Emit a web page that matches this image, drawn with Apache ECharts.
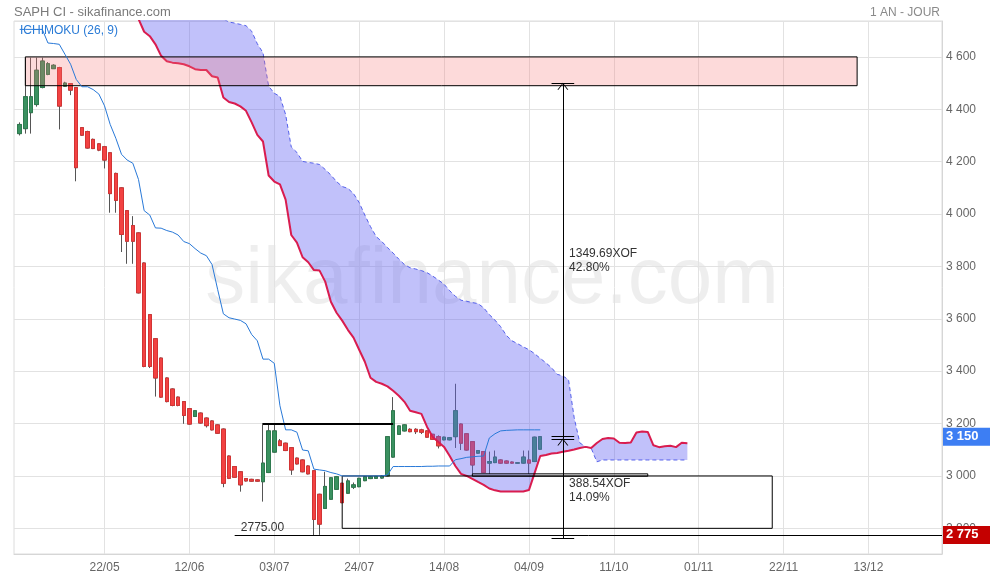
<!DOCTYPE html>
<html>
<head>
<meta charset="utf-8">
<script src="https://cdn.jsdelivr.net/npm/echarts@6/dist/echarts.min.js"></script>
<style>
html,body{margin:0;padding:0;background:#fff;}
#c{width:990px;height:580px;}
</style>
</head>
<body>
<div id="c"></div>
<script>
// ---------- DATA ----------
const tickLabels = ['22/05','12/06','03/07','24/07','14/08','04/09','11/10','01/11','22/11','13/12'];
const firstTick = 16, tickStep = 15, nCats = 165;

// daily candles [open, close, low, high], starting at category index candleStart
const candleStart = 1;
const candles = [
  [4307,4342,4300,4350],[4326,4448,4307,4597],[4387,4448,4307,4597],[4418,4549,4410,4597],[4483,4584,4480,4597],
  [4533,4574,4530,4580],[4555,4568,4555,4572],[4559,4412,4323,4562],[4488,4500,4486,4505],[4498,4473,4454,4500],
  [4483,4177,4125,4485],[4330,4301,4298,4332],[4315,4252,4250,4318],[4285,4250,4248,4288],[4268,4244,4240,4270],
  [4257,4206,4174,4260],[4234,4078,4005,4236],[4155,4052,4005,4158],[4100,3922,3855,4102],[4013,3896,3810,4015],
  [3956,3896,3810,3992],[3928,3699,3697,3930],[3813,3418,3415,3815],[3616,3418,3412,3618],[3524,3374,3303,3526],
  [3450,3301,3298,3452],[3374,3284,3281,3376],[3332,3269,3266,3334],[3301,3269,3266,3303],[3284,3231,3199,3286],
  [3257,3198,3196,3259],[3227,3249,3225,3251],[3240,3202,3200,3242],[3221,3192,3185,3223],[3210,3176,3174,3212],
  [3195,3163,3161,3197],[3179,2972,2957,3181],[3076,2991,2988,3078],[3036,2995,2993,3038],[3016,2966,2940,3018],
  [2990,2981,2979,2992],[2987,2980,2978,2989],[2985,2980,2978,2987],[2978,3049,2902,3202],[3013,3172,3011,3199],
  [3091,3172,3089,3199],[3134,3116,3114,3141],[3125,3097,3095,3127],[3108,3023,3004,3110],[3068,3046,3044,3070],
  [3061,3016,3014,3063],[3038,3008,3006,3040],[3020,2834,2774,3022],[2930,2816,2775,2932],[2876,2960,2874,3016],
  [2911,2993,2909,2995],[2949,2997,2947,3000],[2972,2898,2896,2974],[2934,2981,2932,2990],[2957,2966,2950,2975],
  [2959,2991,2957,2993],[2982,2997,2980,2999],[2990,2997,2988,2999],[2991,2998,2989,3000],[2992,2999,2990,3001],
  [3000,3150,2998,3152],[3072,3249,3070,3301],[3159,3191,3157,3193],[3172,3195,3170,3197],[3178,3169,3167,3182],
  [3178,3169,3160,3182],[3176,3167,3160,3180],[3172,3148,3146,3174],[3159,3140,3138,3161],[3150,3115,3105,3155],
  [3138,3148,3136,3150],[3138,3146,3136,3148],[3150,3249,3107,3352],[3198,3125,3099,3200],[3161,3099,3097,3163],
  [3131,3042,3008,3133],[3087,3097,3085,3099],[3093,3013,3011,3095],[3049,3055,3008,3093],[3051,3072,3049,3097],
  [3061,3049,3047,3063],[3057,3049,3047,3059],[3053,3049,3047,3055],[3049,3050,3048,3051],[3049,3072,3047,3097],
  [3061,3049,3008,3097],[3055,3148,3053,3150],[3102,3150,3100,3152]
];

// Ichimoku kijun line (blue), starting at kijunStart
const kijunStart = 1;
const kijun = [
  4705,4705,4705,4705,4705,
  4653,4651,4648,4610,4572,4514,4486,4486,4475,4458,
  4413,4342,4289,4228,4206,4194,4132,4013,3996,3947,
  3946,3937,3931,3920,3895,3887,3868,3851,3841,3807,
  3711,3619,3604,3599,3594,3581,3540,3516,3446,3446,
  3430,3268,3176,3176,3167,3099,3096,3026,3023,3020,
  3013,3008,
  3000,3000,3000,3000,3000,3000,3000,3000,
  3004,3036,
  3036,3036,3036,3036,3036,3037,3037,3038,3038,3038,
  3062,3066,3071,3073,3075,3076,
  3145,3161,3172,
  3174,3175,3176,3176,3176,3176,3176
];

// Kumo: senkou span A (red) and span B (dashed), starting at spanStart
const spanStart = 20;
const spanA = [
  4830,4790,4745,4696,4679,4648,4604,4583,4578,4576,
  4572,4564,4553,4550,4550,4526,4521,4445,4428,4422,
  4411,4394,4350,4302,4277,4147,4124,4113,4055,3920,
  3891,3835,3816,3786,3784,3742,3665,3623,3593,3558,
  3528,3482,3436,3375,3359,3352,3342,3325,3306,3283,
  3249,3243,3237,3187,3149,3130,3111,3076,3038,3008,
  3000,2989,2977,2966,2952,2945,2941,2941,2941,2941,
  2941,2946,3011,3076,3080,3086,3088,3092,3096,3101,
  3107,3111,3107,3126,3141,3145,3143,3127,3126,3128,
  3166,3170,3168,3117,3110,3113,3115,3110,3127,3125
];
const spanB = [
  4950,4940,4930,4920,4910,4900,4890,4880,4870,4860,
  4850,4840,4830,4810,4790,4775,4760,4745,4733,4729,
  4724,4719,4698,4650,4616,4488,4461,4449,4380,4256,
  4235,4201,4197,4194,4189,4170,4149,4124,4105,4098,
  4078,4044,3996,3952,3914,3895,3872,3851,3828,3807,
  3795,3790,3784,3776,3763,3748,3732,3707,3686,3671,
  3667,3662,3658,3642,3616,3595,3570,3537,3516,3505,
  3493,3482,3467,3449,3432,3413,3388,3382,3367,3222,
  3126,3112,3106,3054,3061,3061,3061,3061,3061,3061,
  3061,3061,3061,3061,3061,3061,3061,3061,3061,3061
];

const lastPrice = 3150;
const supportLevel = 2775;
const resistanceLevel = 3200;
const measureTop = 4499.69, measureBottom = 2761.46, measureMid = 3141.5;
const zoneTop = [4600, 4490];
const zoneLow = [3000, 2800];
const zoneThin = [3008, 2999];

// ---------- CHART ----------
const FONT = '"Liberation Sans", Arial, sans-serif';
const cats = Array.from({length: nCats}, (_, i) => String(i));
const tickMap = {};
tickLabels.forEach((t, k) => { tickMap[firstTick + k * tickStep] = t; });
const isTick = (i) => tickMap[i] !== undefined;
const pad = (start, arr) => {
  const out = new Array(nCats).fill('-');
  arr.forEach((v, i) => { out[start + i] = v; });
  return out;
};
const wickData = candles.map((d, i) => [candleStart + i, d[0], d[1], d[2], d[3]]);
const bodyData = candles.map((d, i) => [candleStart + i, d[0], d[1], Math.min(d[0], d[1]), Math.max(d[0], d[1])]);
const fmtY = (v) => {
  const th = Math.floor(v / 1000), r = Math.round(v % 1000);
  return th + ' ' + String(r).padStart(3, '0');
};
const C = (i) => String(i);

const chart = echarts.init(document.getElementById('c'), null, {renderer: 'canvas'});
const option = {
  animation: false,
  backgroundColor: '#ffffff',
  textStyle: {fontFamily: FONT},
  title: [
    {text: 'SAPH CI - sikafinance.com', left: 9, top: 1,
     textStyle: {fontSize: 13, fontWeight: 'normal', color: '#7a7a7a', fontFamily: FONT}},
    {text: '1 AN - JOUR', right: 45, top: 2,
     textStyle: {fontSize: 12, fontWeight: 'normal', color: '#8a8a8a', fontFamily: FONT}},
    {text: 'ICHIMOKU (26, 9)', left: 15, top: 20,
     textStyle: {fontSize: 12, fontWeight: 'normal', color: '#2a7bd6', fontFamily: FONT}}
  ],
  graphic: [{
    type: 'text', z: 0, silent: true,
    x: 492, y: 281,
    style: {text: 'sikafinance.com', fill: 'rgba(0,0,0,0.065)',
            font: '80px "Liberation Sans", Arial, sans-serif', textAlign: 'center', textVerticalAlign: 'middle'}
  }],
  grid: {left: 14, right: 48, top: 21, bottom: 26, show: true, borderColor: '#dcdcdc', borderWidth: 1},
  xAxis: {
    type: 'category', data: cats, boundaryGap: false,
    axisLine: {lineStyle: {color: '#d6d6d6'}},
    axisTick: {show: false},
    axisLabel: {interval: (i) => isTick(i), formatter: (v, i) => tickMap[i] || '', color: '#666',
                fontSize: 12, margin: 8, fontFamily: FONT},
    splitLine: {show: true, interval: (i) => isTick(i), lineStyle: {color: '#e2e2e2'}}
  },
  yAxis: {
    type: 'value', position: 'right', min: 2702, max: 4737, splitNumber: 10,
    axisLine: {show: true, lineStyle: {color: '#d6d6d6'}},
    axisTick: {show: false},
    axisLabel: {formatter: fmtY, color: '#666', fontSize: 12, margin: 4, showMinLabel: false, showMaxLabel: false,
                padding: [0, 0, 5, 0], fontFamily: FONT},
    splitLine: {lineStyle: {color: '#e2e2e2'}}
  },
  series: [
    {
      type: 'candlestick', name: 'wick', data: wickData, encode: {x: 0, y: [1, 2, 3, 4]},
      barWidth: 4, silent: true,
      itemStyle: {color: 'rgba(0,0,0,0)', color0: 'rgba(0,0,0,0)', borderColor: '#555', borderColor0: '#555', borderWidth: 1}
    },
    {
      type: 'candlestick', name: 'body', data: bodyData, encode: {x: 0, y: [1, 2, 3, 4]},
      barWidth: 4, silent: true,
      itemStyle: {color: '#3a9160', color0: '#f24242', borderColor: '#2e7a4f', borderColor0: '#d23434', borderWidth: 1}
    },
    {
      type: 'line', name: 'spanB', data: pad(spanStart, spanB), stack: 'kumo', stackStrategy: 'all',
      symbol: 'none', silent: true, z: 3,
      lineStyle: {color: '#5561ea', width: 1, type: [4, 3]}
    },
    {
      type: 'line', name: 'spanA', data: pad(spanStart, spanA.map((v, i) => v - spanB[i])), stack: 'kumo', stackStrategy: 'all',
      symbol: 'none', silent: true, z: 3,
      lineStyle: {color: '#d91c4f', width: 2},
      areaStyle: {color: 'rgba(100,100,242,0.4)', opacity: 1}
    },
    {
      type: 'line', name: 'kijun', data: pad(kijunStart, kijun), symbol: 'none', silent: true, z: 4,
      lineStyle: {color: '#2979d8', width: 1},
      markArea: {
        silent: true, z: 4,
        label: {show: false},
        data: [
          [{coord: [C(2), zoneTop[0]], itemStyle: {color: 'rgba(248,120,120,0.27)', borderColor: '#000', borderWidth: 1}},
           {coord: [C(149), zoneTop[1]]}],
          [{coord: [C(58), zoneLow[0]], itemStyle: {color: 'rgba(0,0,0,0)', borderColor: '#000', borderWidth: 1}},
           {coord: [C(134), zoneLow[1]]}],
          [{coord: [C(81), zoneThin[0]], itemStyle: {color: 'rgba(0,0,0,0)', borderColor: '#000', borderWidth: 1}},
           {coord: [C(112), zoneThin[1]]}]
        ]
      },
      markLine: {
        silent: true, z: 6, symbol: ['none', 'none'],
        label: {show: false},
        lineStyle: {color: '#000', width: 1, type: 'solid'},
        data: [
          [{coord: [C(44), resistanceLevel], lineStyle: {width: 2, color: '#000'}}, {coord: [C(67), resistanceLevel]}],
          [{coord: [C(39), supportLevel], lineStyle: {width: 1, color: '#000'},
            label: {show: true, position: 'end', distance: 1, formatter: fmtY(supportLevel), color: '#fff', fontWeight: 'bold',
                    fontSize: 13, backgroundColor: '#c40000', padding: [3, 4, 2, 3], width: 40, fontFamily: FONT}},
           {coord: [C(164), supportLevel]}],
          {yAxis: lastPrice, lineStyle: {color: 'rgba(0,0,0,0)', width: 0},
           label: {show: true, position: 'end', distance: 1, formatter: fmtY(lastPrice), color: '#fff', fontWeight: 'bold',
                   fontSize: 13, backgroundColor: '#3d7ef3', padding: [3, 4, 2, 3], width: 40, fontFamily: FONT}},
          [{coord: [C(97), measureMid]},
           {coord: [C(97), measureTop], symbol: 'path://M0,10 L5,0 L10,10 L9,10 L5,2 L1,10 Z', symbolSize: [11, 7], symbolOffset: [0, 3]}],
          [{coord: [C(97), measureBottom]},
           {coord: [C(97), measureMid], symbol: 'path://M0,10 L5,0 L10,10 L9,10 L5,2 L1,10 Z', symbolSize: [11, 7], symbolOffset: [0, 3]}],
          [{coord: [C(95), measureTop]}, {coord: [C(99), measureTop]}],
          [{coord: [C(95), lastPrice]}, {coord: [C(99), lastPrice]}],
          [{coord: [C(95), measureMid]}, {coord: [C(99), measureMid]}],
          [{coord: [C(95), measureBottom]}, {coord: [C(99), measureBottom]}]
        ]
      },
      markPoint: {
        silent: true, z: 6, symbol: 'rect', symbolSize: 1,
        itemStyle: {color: 'rgba(0,0,0,0)'},
        label: {show: true, position: 'right', distance: 0, color: '#333', fontSize: 12, lineHeight: 14, fontFamily: FONT},
        data: [
          {coord: [C(98), 3822], label: {formatter: '1349.69XOF\n42.80%'}},
          {coord: [C(98), 2943], label: {formatter: '388.54XOF\n14.09%'}},
          {coord: [C(40), 2801], label: {formatter: '2775.00'}}
        ]
      }
    }
  ]
};
chart.setOption(option);
</script>
</body>
</html>
